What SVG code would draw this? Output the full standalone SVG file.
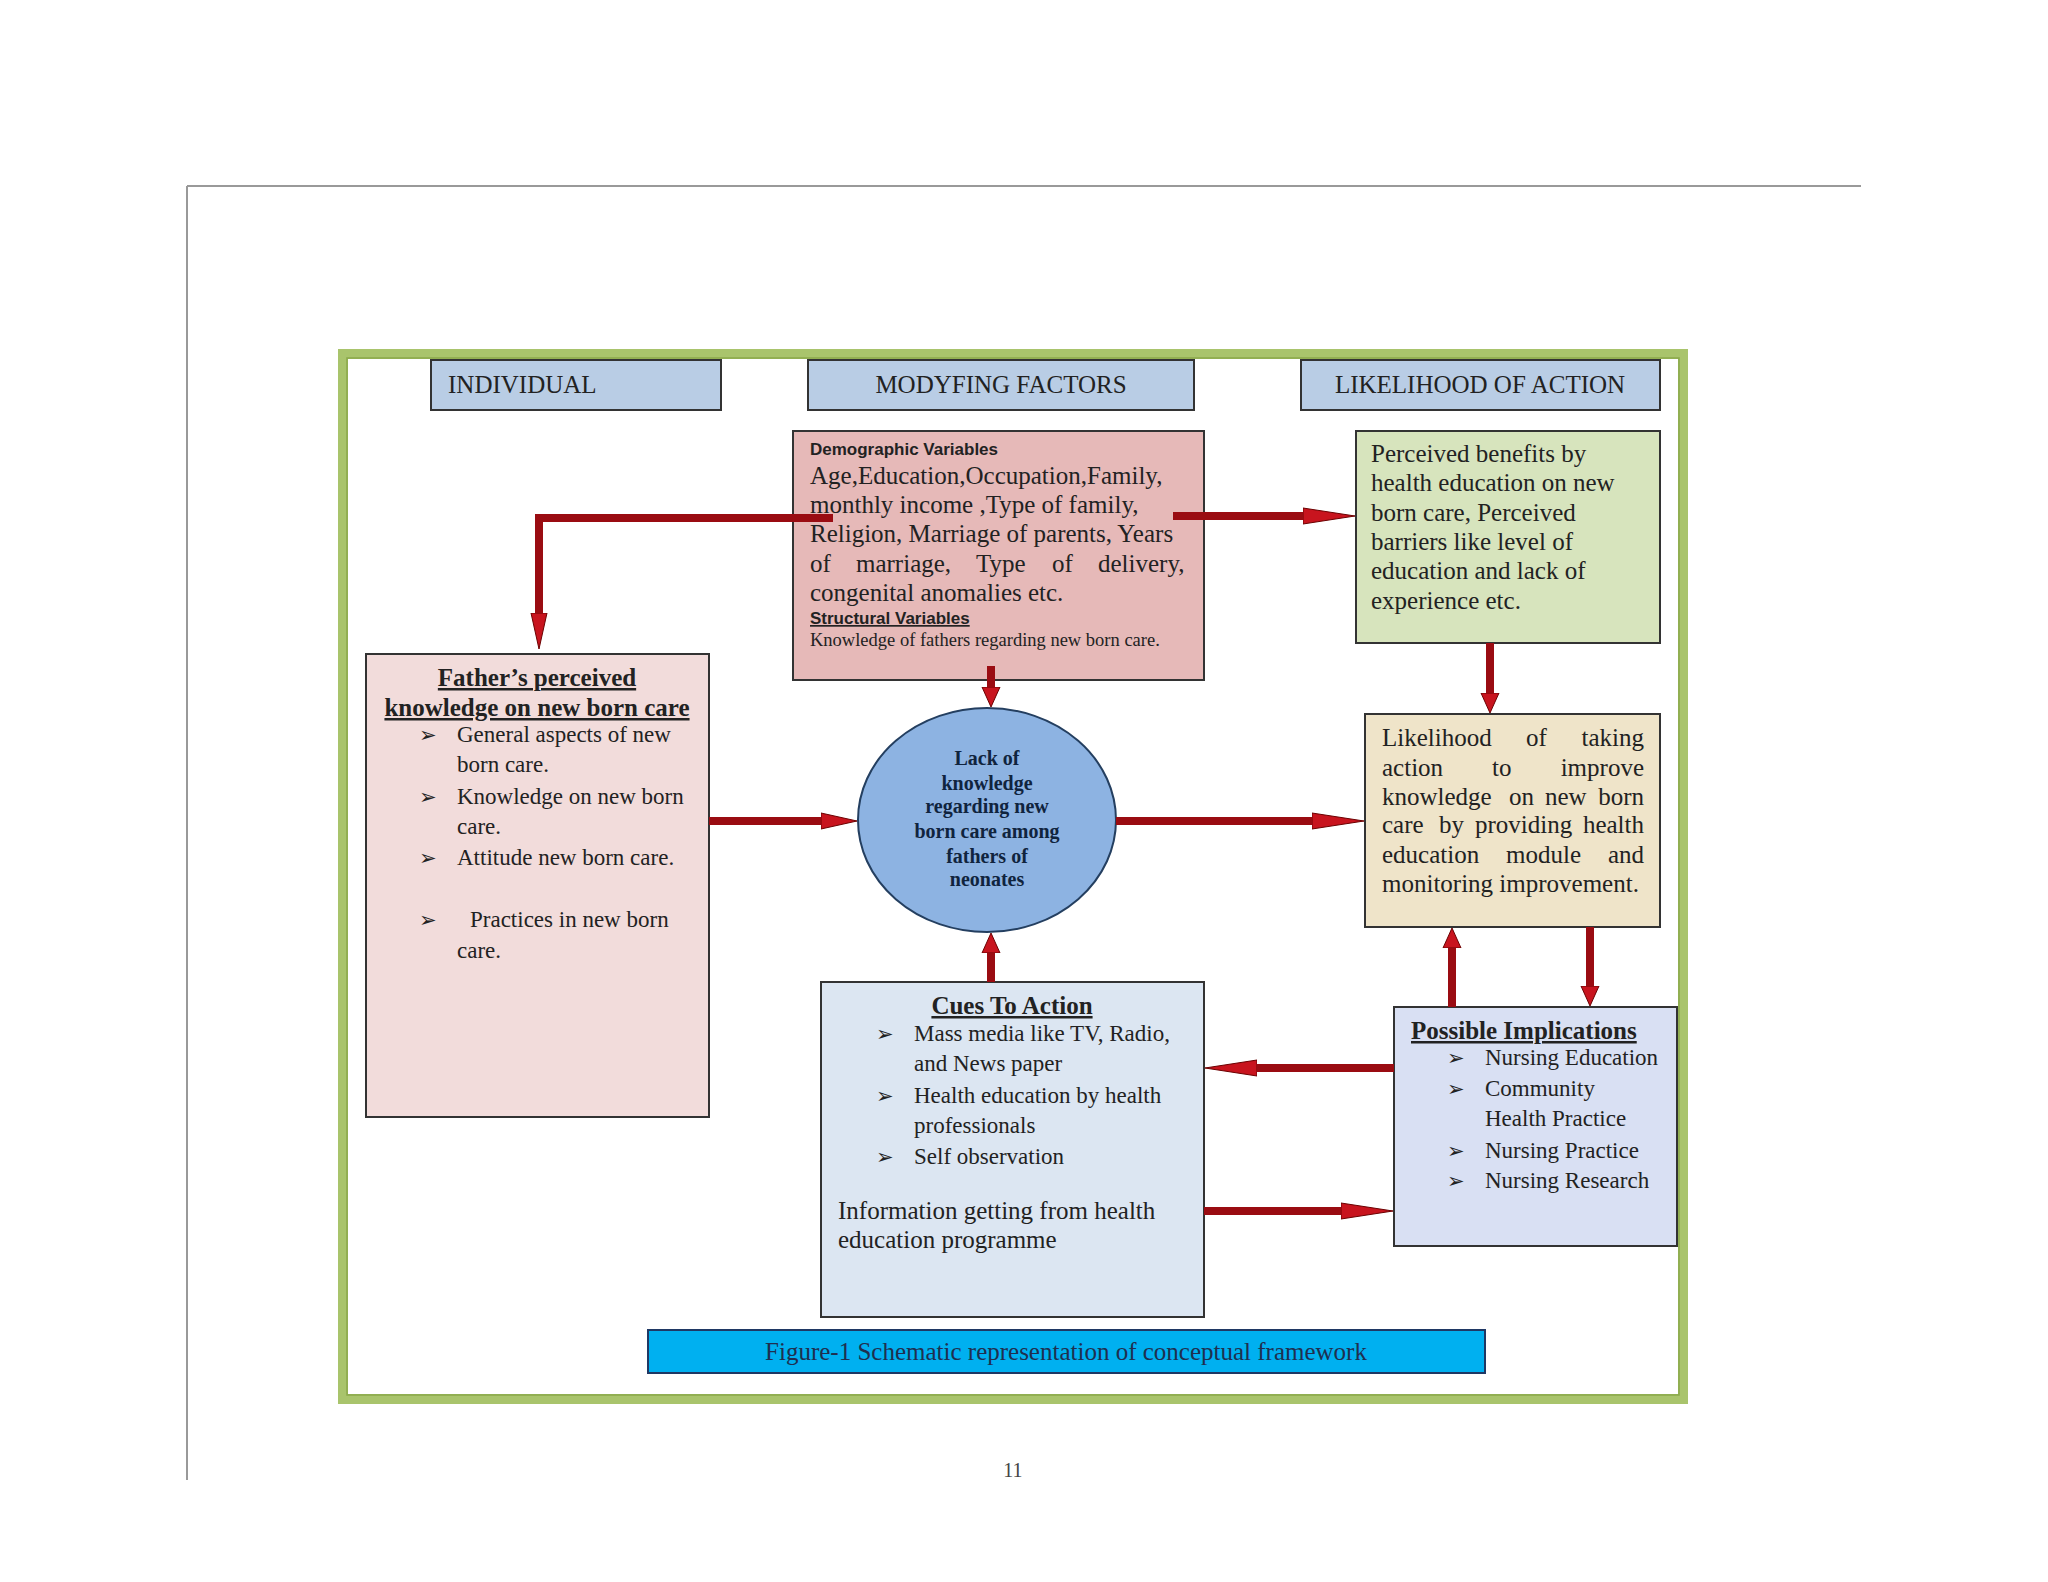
<svg xmlns="http://www.w3.org/2000/svg" width="2048" height="1582" viewBox="0 0 2048 1582">
<defs>
<style>
.box{stroke:#333;stroke-width:2}
.hdr{fill:#b9cde5}
.t{font-family:"Liberation Serif","Times New Roman",serif;font-size:25px;fill:#222}
.tb{font-family:"Liberation Serif","Times New Roman",serif;font-size:25px;font-weight:bold;fill:#222;text-decoration:underline}
.s{font-family:"Liberation Serif","Times New Roman",serif;font-size:23px;fill:#222}
.small{font-family:"Liberation Serif","Times New Roman",serif;font-size:18.5px;fill:#222}
.bul{font-family:"DejaVu Sans",sans-serif;font-size:21px;fill:#222}
.sans{font-family:"Liberation Sans",Arial,sans-serif;font-size:17px;font-weight:bold;fill:#222}
.circ{font-family:"Liberation Serif","Times New Roman",serif;font-size:20px;font-weight:bold;fill:#10243e;text-anchor:middle}
.cap{font-family:"Liberation Serif","Times New Roman",serif;font-size:25px;fill:#1f2f4f;text-anchor:middle}
.conn{fill:none;stroke:#9a0c12;stroke-width:8;stroke-linejoin:miter}
.head{fill:#c8141e;stroke:#6b0000;stroke-width:1}
</style>
<marker id="mL" markerUnits="userSpaceOnUse" markerWidth="54" markerHeight="22" refX="1" refY="11" orient="auto"><path class="head" d="M0,3 L52,11 L0,19 Z"/></marker>
<marker id="mM" markerUnits="userSpaceOnUse" markerWidth="38" markerHeight="22" refX="1" refY="11" orient="auto"><path class="head" d="M0,3 L36,11 L0,19 Z"/></marker>
<marker id="mS" markerUnits="userSpaceOnUse" markerWidth="22" markerHeight="22" refX="1" refY="11" orient="auto"><path class="head" d="M0,2 L20,11 L0,20 Z"/></marker>
</defs>
<rect width="2048" height="1582" fill="#fff"/>
<g id="page">
<path d="M187,186 H1861 M187,186 V1480" fill="none" stroke="#999" stroke-width="2"/>
<rect x="343" y="354" width="1340" height="1045" fill="none" stroke="#a9c46c" stroke-width="10"/>
<rect x="347" y="358" width="1332" height="1037" fill="none" stroke="#8aa84a" stroke-width="1.5"/>
<text x="1013" y="1477" font-family="Liberation Serif,serif" font-size="20" fill="#444" text-anchor="middle">11</text>
</g>
<g id="hdr-individual"><rect class="box hdr" x="431" y="360" width="290" height="50"/><text class="t" x="448" y="393">INDIVIDUAL</text></g>
<g id="hdr-modifying"><rect class="box hdr" x="808" y="360" width="386" height="50"/><text class="t" x="1001" y="393" text-anchor="middle">MODYFING FACTORS</text></g>
<g id="hdr-likelihood"><rect class="box hdr" x="1301" y="360" width="359" height="50"/><text class="t" x="1480" y="393" text-anchor="middle">LIKELIHOOD OF ACTION</text></g>
<g id="demographic">
<rect class="box" x="793" y="431" width="411" height="249" fill="#e6b9b8"/>
<text class="sans" x="810" y="455">Demographic Variables</text>
<text class="t" x="810" y="484">Age,Education,Occupation,Family,</text>
<text class="t" x="810" y="513">monthly income ,Type of family,</text>
<text class="t" x="810" y="542">Religion, Marriage of parents, Years</text>
<text class="t" y="572"><tspan x="810">of</tspan><tspan x="856">marriage,</tspan><tspan x="976">Type</tspan><tspan x="1052">of</tspan><tspan x="1098">delivery,</tspan></text>
<text class="t" x="810" y="601">congenital anomalies etc.</text>
<text class="sans" x="810" y="624" text-decoration="underline">Structural Variables</text>
<text class="small" x="810" y="646">Knowledge of fathers regarding new born care.</text>
</g>
<g id="perceived">
<rect class="box" x="1356" y="431" width="304" height="212" fill="#d7e4bd"/>
<text class="t" x="1371" y="462">Perceived benefits by</text>
<text class="t" x="1371" y="491">health education on new</text>
<text class="t" x="1371" y="521">born care, Perceived</text>
<text class="t" x="1371" y="550">barriers like level of</text>
<text class="t" x="1371" y="579">education and lack of</text>
<text class="t" x="1371" y="609">experience etc.</text>
</g>
<g id="father">
<rect class="box" x="366" y="654" width="343" height="463" fill="#f2dcdb"/>
<text class="tb" x="537" y="686" text-anchor="middle">Father’s perceived</text>
<text class="tb" x="537" y="716" text-anchor="middle">knowledge on new born care</text>
<text class="bul" x="419" y="742">➢</text><text class="s" x="457" y="742">General aspects of new</text>
<text class="s" x="457" y="772">born care.</text>
<text class="bul" x="419" y="804">➢</text><text class="s" x="457" y="804">Knowledge on new born</text>
<text class="s" x="457" y="834">care.</text>
<text class="bul" x="419" y="865">➢</text><text class="s" x="457" y="865">Attitude new born care.</text>
<text class="bul" x="419" y="927">➢</text><text class="s" x="470" y="927">Practices in new born</text>
<text class="s" x="457" y="958">care.</text>
</g>
<g id="lack">
<ellipse cx="987" cy="820" rx="129" ry="112" fill="#8db3e2" stroke="#243f60" stroke-width="2"/>
<text class="circ" x="987" y="765">Lack of</text>
<text class="circ" x="987" y="790">knowledge</text>
<text class="circ" x="987" y="813">regarding new</text>
<text class="circ" x="987" y="838">born care among</text>
<text class="circ" x="987" y="863">fathers of</text>
<text class="circ" x="987" y="886">neonates</text>
</g>
<g id="likelihood">
<rect class="box" x="1365" y="714" width="295" height="213" fill="#efe4c9"/>
<text class="t" y="746"><tspan x="1382">Likelihood</tspan><tspan x="1526">of</tspan><tspan x="1644" text-anchor="end">taking</tspan></text>
<text class="t" y="776"><tspan x="1382">action</tspan><tspan x="1492">to</tspan><tspan x="1644" text-anchor="end">improve</tspan></text>
<text class="t" y="805"><tspan x="1382">knowledge</tspan><tspan x="1509">on</tspan><tspan x="1545">new</tspan><tspan x="1644" text-anchor="end">born</tspan></text>
<text class="t" y="833"><tspan x="1382">care</tspan><tspan x="1439">by</tspan><tspan x="1475">providing</tspan><tspan x="1644" text-anchor="end">health</tspan></text>
<text class="t" y="863"><tspan x="1382">education</tspan><tspan x="1506">module</tspan><tspan x="1644" text-anchor="end">and</tspan></text>
<text class="t" x="1382" y="892">monitoring improvement.</text>
</g>
<g id="cues">
<rect class="box" x="821" y="982" width="383" height="335" fill="#dce6f2"/>
<text class="tb" x="1012" y="1014" text-anchor="middle">Cues To Action</text>
<text class="bul" x="876" y="1041">➢</text><text class="s" x="914" y="1041">Mass media like TV, Radio,</text>
<text class="s" x="914" y="1071">and News paper</text>
<text class="bul" x="876" y="1103">➢</text><text class="s" x="914" y="1103">Health education by health</text>
<text class="s" x="914" y="1133">professionals</text>
<text class="bul" x="876" y="1164">➢</text><text class="s" x="914" y="1164">Self observation</text>
<text class="t" x="838" y="1219">Information getting from health</text>
<text class="t" x="838" y="1248">education programme</text>
</g>
<g id="implications">
<rect class="box" x="1394" y="1007" width="283" height="239" fill="#d9e0f3"/>
<text class="tb" x="1411" y="1039">Possible Implications</text>
<text class="bul" x="1447" y="1065">➢</text><text class="s" x="1485" y="1065">Nursing Education</text>
<text class="bul" x="1447" y="1096">➢</text><text class="s" x="1485" y="1096">Community</text>
<text class="s" x="1485" y="1126">Health Practice</text>
<text class="bul" x="1447" y="1158">➢</text><text class="s" x="1485" y="1158">Nursing Practice</text>
<text class="bul" x="1447" y="1188">➢</text><text class="s" x="1485" y="1188">Nursing Research</text>
</g>
<g id="caption">
<rect x="648" y="1330" width="837" height="43" fill="#00b0f0" stroke="#1f3864" stroke-width="2"/>
<text class="cap" x="1066" y="1360">Figure-1 Schematic representation of conceptual framework</text>
</g>
<g id="connectors">
<path class="conn" d="M833,518 H539 V614" marker-end="url(#mM)"/>
<path class="conn" d="M1173,516 H1304" marker-end="url(#mL)"/>
<path class="conn" d="M991,666 V688" marker-end="url(#mS)"/>
<path class="conn" d="M709,821 H822" marker-end="url(#mM)"/>
<path class="conn" d="M1116,821 H1313" marker-end="url(#mL)"/>
<path class="conn" d="M1490,643 V694" marker-end="url(#mS)"/>
<path class="conn" d="M1590,927 V987" marker-end="url(#mS)"/>
<path class="conn" d="M1452,1007 V947" marker-end="url(#mS)"/>
<path class="conn" d="M1394,1068 H1256" marker-end="url(#mL)"/>
<path class="conn" d="M1204,1211 H1342" marker-end="url(#mL)"/>
<path class="conn" d="M991,982 V952" marker-end="url(#mS)"/>
</g>
</svg>
